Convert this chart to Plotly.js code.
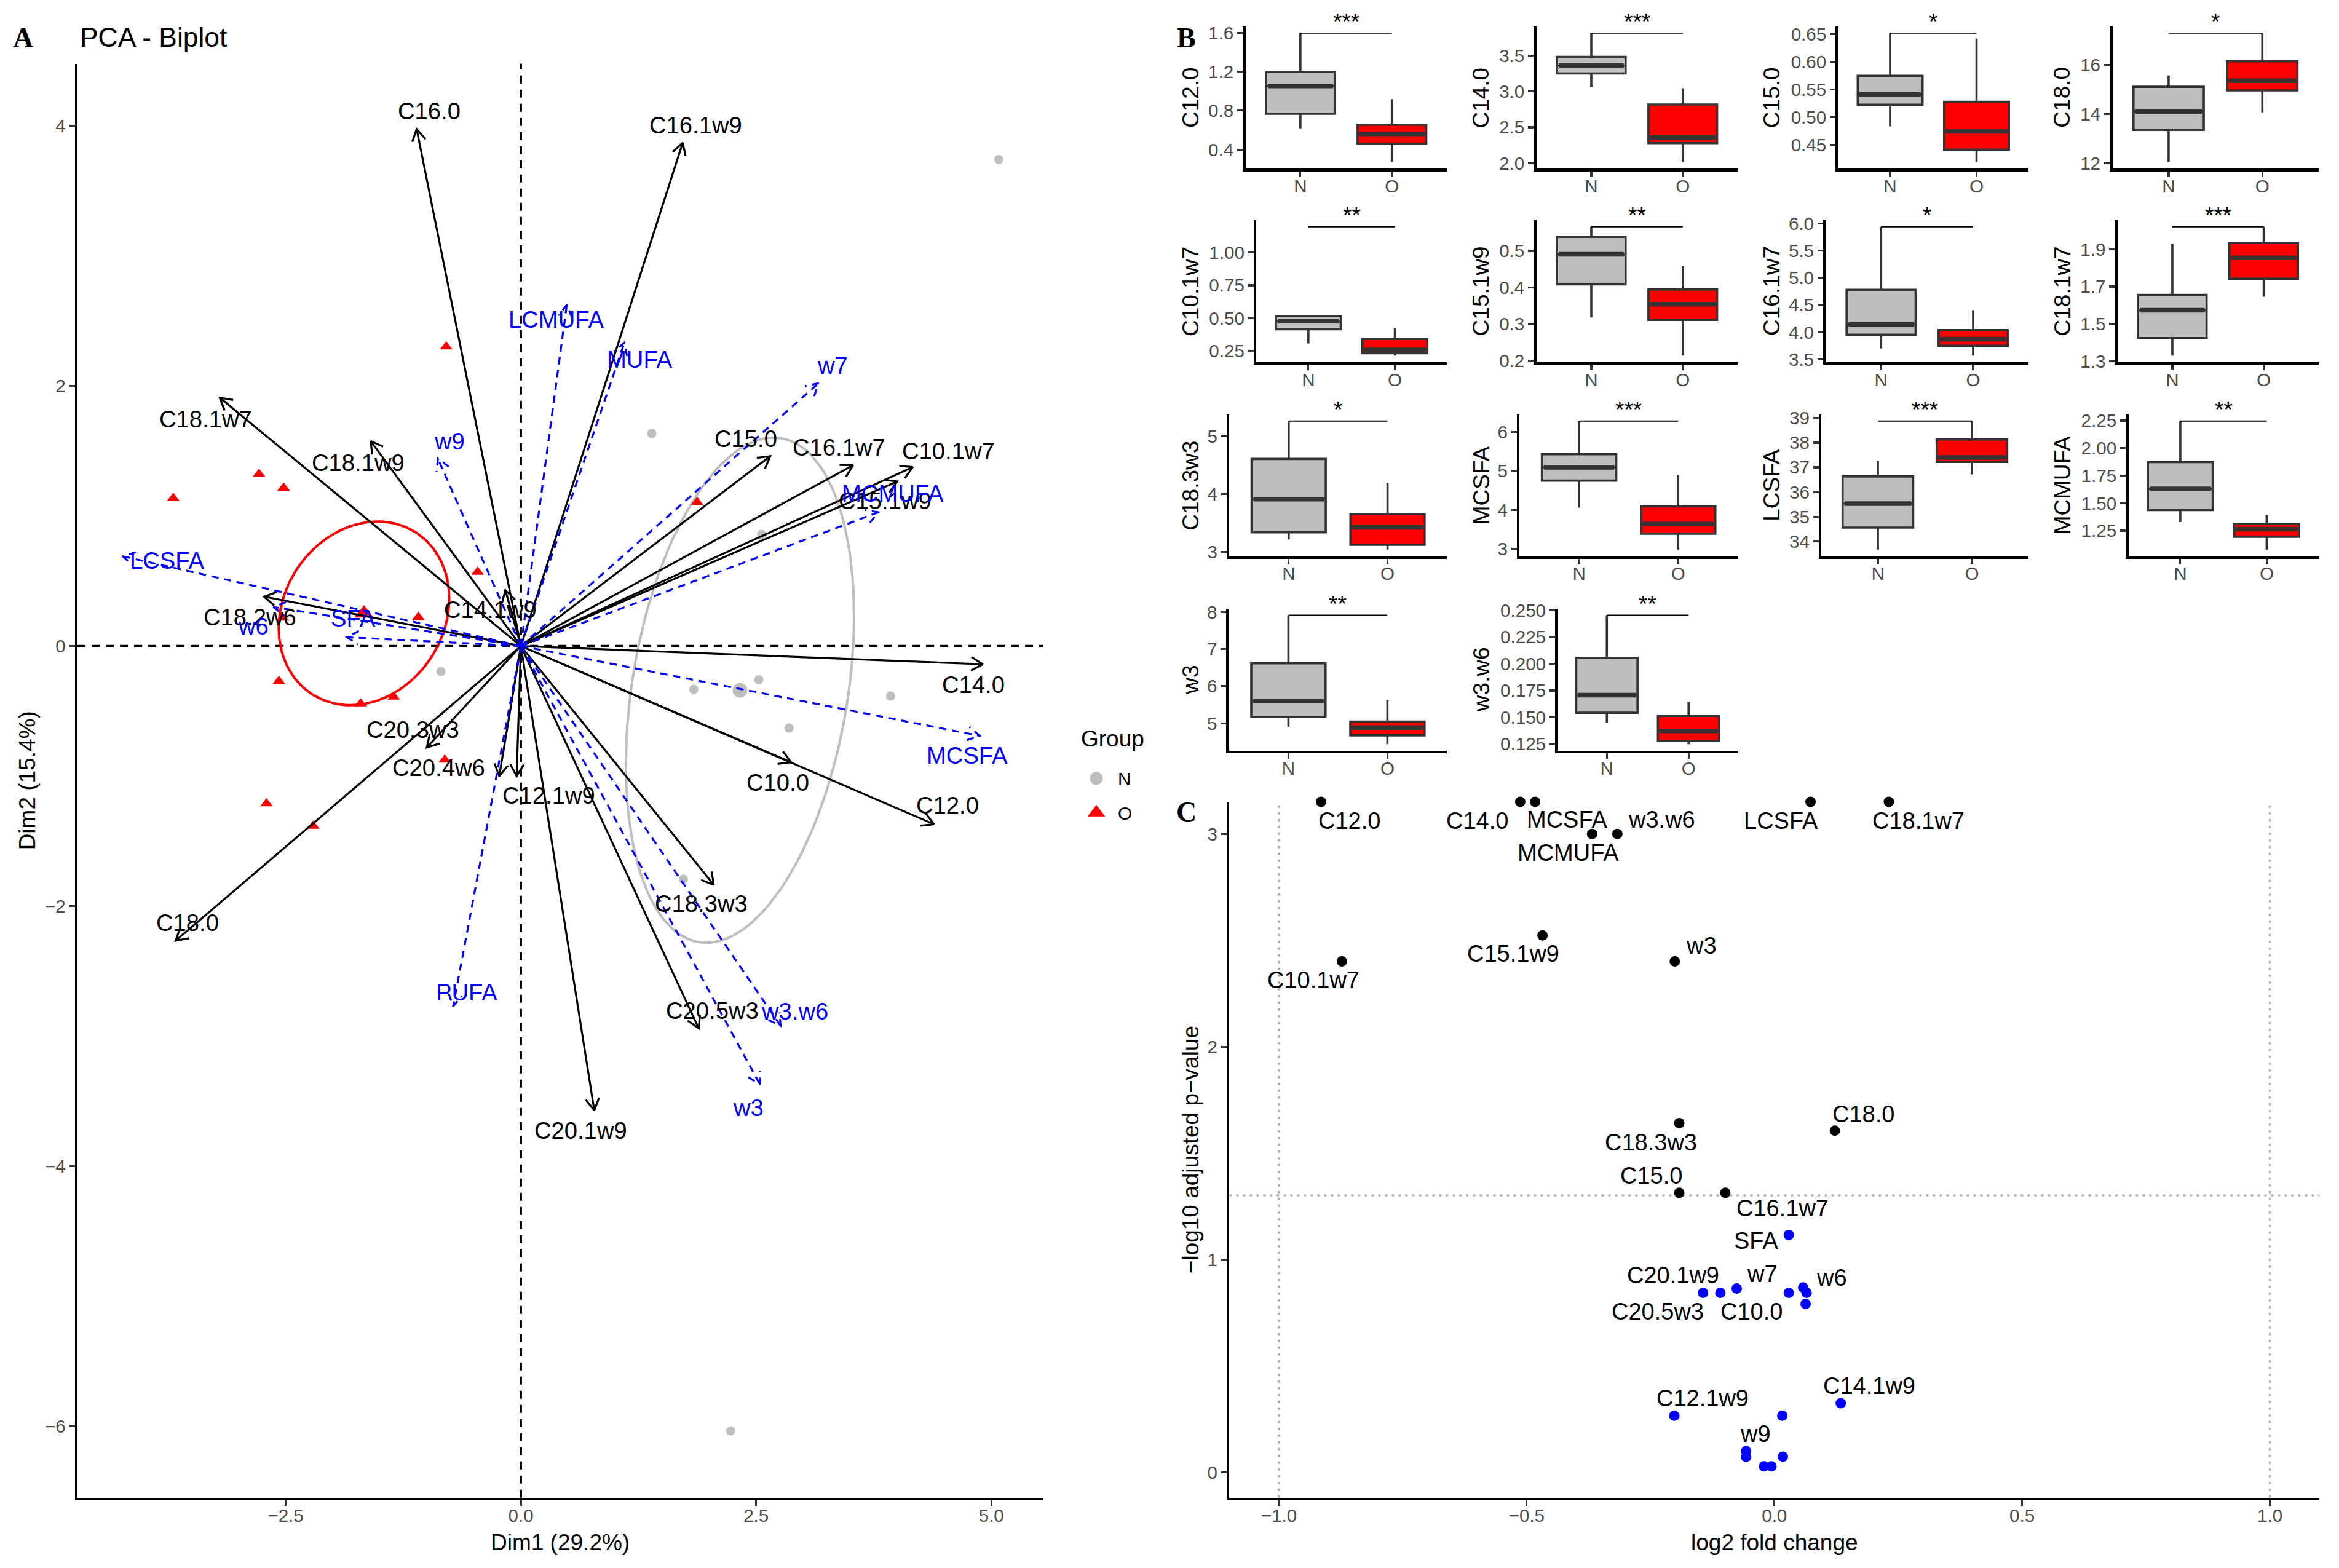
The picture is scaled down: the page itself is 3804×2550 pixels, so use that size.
<!DOCTYPE html>
<html><head><meta charset="utf-8">
<script src="https://cdn.plot.ly/plotly-3.0.1.min.js"></script>
<style>html,body{margin:0;padding:0;background:#fff}</style>
</head><body><div id="chart" style="width:3804px;height:2550px"></div>
<script>
// ================= DATA =================
// ---- Panel A : PCA biplot ----
const pcaVarNames = ['C16.0','C16.1w9','C18.1w7','C18.1w9','C15.0','C16.1w7','C10.1w7','C15.1w9','C14.1w9','C18.2w6','C14.0','C10.0','C12.0','C20.3w3','C20.4w6','C12.1w9','C18.0','C18.3w3','C20.5w3','C20.1w9'];
const pcaVarDim1  = [-1.108,1.72,-3.20,-1.596,2.65,3.53,4.165,4.0,-0.165,-2.73,4.91,2.872,4.39,-1.0,-0.23,-0.045,-3.67,2.05,1.89,0.78];
const pcaVarDim2  = [3.976,3.87,1.91,1.576,1.46,1.39,1.376,1.266,0.43,0.38,-0.14,-0.894,-1.37,-0.78,-1.0,-1.0,-2.266,-1.836,-2.94,-3.57];
const pcaGrpNames = ['LCMUFA','MUFA','w7','w9','MCMUFA','LCSFA','w6','SFA','MCSFA','PUFA','w3.w6','w3'];
const pcaGrpDim1  = [0.488,1.10,3.163,-0.882,3.80,-4.23,-2.63,-1.85,4.876,-0.72,2.76,2.54];
const pcaGrpDim2  = [2.624,2.333,2.02,1.44,1.029,0.69,0.30,0.068,-0.69,-2.77,-2.92,-3.37];
const indNDim1 = [5.08,1.392,2.558,-0.85,2.529,1.837,3.929,2.85,1.727,2.23];
const indNDim2 = [3.741,1.635,0.859,-0.196,-0.259,-0.333,-0.384,-0.631,-1.793,-6.035];
const indODim1 = [-0.794,-3.695,-2.784,-2.522,-0.46,1.873,-1.09,-2.572,-1.703,-1.352,-0.809,-2.704,-2.208,-2.53];
const indODim2 = [2.302,1.137,1.322,1.216,0.569,1.106,0.222,-0.27,-0.443,-0.39,-0.875,-1.211,-1.383,0.217];
const groupNames = ['N','O'];
const pcaXTickLabels = ['\u22122.5','0.0','2.5','5.0'];
const pcaYTickLabels = ['\u22126','\u22124','\u22122','0','2','4'];

// ---- Panel B : boxplots ----
const boxVars = ['C12.0','C14.0','C15.0','C18.0','C10.1w7','C15.1w9','C16.1w7','C18.1w7','C18.3w3','MCSFA','LCSFA','MCMUFA','w3','w3.w6'];
const boxSig  = ['***','***','*','*','**','**','*','***','*','***','***','**','**','**'];
const nLow  = [0.617,3.059,0.4831,12.042,0.3077,0.3177,3.70,1.3306,3.223,4.059,33.67,1.3278,4.90,0.145];
const nQ1   = [0.768,3.251,0.5222,13.353,0.4153,0.4083,3.956,1.4244,3.342,4.751,34.561,1.437,5.166,0.1542];
const nMed  = [1.053,3.361,0.5405,14.10,0.4776,0.4907,4.144,1.573,3.917,5.092,35.535,1.6296,5.599,0.1706];
const nQ3   = [1.1965,3.483,0.5743,15.108,0.5166,0.5387,4.78,1.6553,4.6105,5.426,36.632,1.8731,6.619,0.2056];
const nHigh = [1.596,3.816,0.6515,15.568,0.5166,0.5662,5.94,1.9296,5.266,6.277,37.267,2.2463,7.917,0.2454];
const oLow  = [0.272,2.014,0.4187,14.066,0.2157,0.2134,3.571,1.6455,3.043,2.984,36.715,1.0778,4.436,0.1248];
const oQ1   = [0.4615,2.278,0.4412,14.959,0.2328,0.311,3.752,1.742,3.128,3.391,37.222,1.1944,4.674,0.1278];
const oMed  = [0.561,2.356,0.4741,15.353,0.2593,0.3542,3.873,1.8534,3.428,3.639,37.399,1.2648,4.884,0.1371];
const oQ3   = [0.655,2.817,0.5274,16.145,0.342,0.3943,4.04,1.9329,3.656,4.091,38.125,1.313,5.044,0.1512];
const oHigh = [0.918,3.045,0.6415,17.295,0.423,0.4596,4.404,2.0196,4.197,4.894,38.876,1.3926,5.63,0.164];
const sigBarY = [1.596,3.816,0.6515,17.295,1.195,0.5662,5.94,2.0196,5.266,6.277,38.876,2.2463,7.917,0.2454];
const boxTickLabels = [
  ['0.4','0.8','1.2','1.6'], ['2.0','2.5','3.0','3.5'], ['0.45','0.50','0.55','0.60','0.65'], ['12','14','16'],
  ['0.25','0.50','0.75','1.00'], ['0.2','0.3','0.4','0.5'], ['3.5','4.0','4.5','5.0','5.5','6.0'], ['1.3','1.5','1.7','1.9'],
  ['3','4','5'], ['3','4','5','6'], ['34','35','36','37','38','39'], ['1.25','1.50','1.75','2.00','2.25'],
  ['5','6','7','8'], ['0.125','0.150','0.175','0.200','0.225','0.250']
];

// ---- Panel C : volcano ----
const sigNames   = ['C12.0','C14.0','MCSFA','MCMUFA','w3.w6','LCSFA','C18.1w7','C15.1w9','w3','C10.1w7','C18.3w3','C18.0','C15.0','C16.1w7'];
const sigLog2FC  = [-0.915,-0.513,-0.483,-0.368,-0.317,0.073,0.231,-0.468,-0.201,-0.873,-0.192,0.122,-0.192,-0.099];
const sigNegLogP = [3.151,3.151,3.151,3.0,3.0,3.151,3.151,2.523,2.401,2.401,1.641,1.605,1.313,1.313];
const nsNames    = ['SFA','C20.5w3','C20.1w9','w7','C10.0','w6','MUFA','C18.2w6','C14.1w9','C12.1w9','LCMUFA','w9','C16.0','C16.1w9','C18.1w9','PUFA'];
const nsLog2FC   = [0.029,-0.144,-0.109,-0.076,0.029,0.058,0.065,0.063,0.134,-0.202,0.016,-0.057,-0.057,0.017,-0.021,-0.006];
const nsNegLogP  = [1.115,0.843,0.843,0.863,0.843,0.868,0.843,0.791,0.324,0.266,0.266,0.099,0.072,0.073,0.027,0.027];
const volXTickLabels = ['\u22121.0','\u22120.5','0.0','0.5','1.0'];
const volYTickLabels = ['0','1','2','3'];
const pThreshold = 0.05;
const fcLimit = 1;

// ================= STYLE / GEOMETRY =================
const W = 3804, H = 2550;
const FONT = 'Liberation Sans, Arial, Helvetica, sans-serif';
const GRAY = '#BEBEBE', RED = '#FF0000', BLUE = '#0000FF';
const GEO_A = {x0:126.1, x1:1696.4, y0:103.6, y1:2435.7, xr:[-4.712,5.550], yr:[-6.549,4.478]};
const GEO_C = {x0:1999.4, x1:3772.1, y0:1303.9, y1:2435.7, xr:[-1.1,1.1], yr:[-0.12,3.151]};
const B_ROW_TOP = [43.3, 358.3, 674.3, 990];
const B_ROW_BOT = [274, 588.7, 904.3, 1220.7];
const B_LEFT = [[2025.6,2498.7,2989.7,3435.5],[2043.4,2498.7,2969.5,3443.8],[1999.4,2471.4,2962.3,3461.6],[1998.8,2533.5]];
const B_RIGHT = [2353, 2826, 3298.8, 3770.7];
const B_TITLE_X = [1936.4, 2408.9, 2881.5, 3354];

const pcaVarLabelOffset = {'C16.0':[20,-29],'C16.1w9':[21,-29],'C18.1w7':[-23,35],'C18.1w9':[-20,35],'C15.0':[-40,-28],
 'C16.1w7':[-23,-29],'C10.1w7':[58,-26],'C15.1w9':[-20,32],'C14.1w9':[-24,32],'C18.2w6':[-23,33],'C14.0':[-15,33],
 'C10.0':[-22,33],'C12.0':[22,-31],'C20.3w3':[-23,-29],'C20.4w6':[-98,-14],'C12.1w9':[52,31],'C18.0':[19,-29],
 'C18.3w3':[-20,31],'C20.5w3':[22,-29],'C20.1w9':[-22,33]};
const pcaGrpLabelOffset = {'LCMUFA':[-17,24],'MUFA':[25,27],'w7':[23,-29],'w9':[19,-29],'MCMUFA':[23,-31],'LCSFA':[72,7],
 'w6':[-33,31],'SFA':[10,-31],'MCSFA':[-20,32],'PUFA':[22,-23],'w3.w6':[23,-24],'w3':[-19,38]};
const volLabelOffset = {'C12.0':[46,31.5],'C14.0':[-70,31.5],'MCSFA':[52,29],'MCMUFA':[-39,31],'w3.w6':[72,-23],
 'LCSFA':[-48,31.5],'C18.1w7':[48,31.5],'C15.1w9':[-48,30],'w3':[43,-25],'C10.1w7':[-46,31],'C18.3w3':[-46,31.5],
 'C18.0':[46,-27],'C15.0':[-46,-28],'C16.1w7':[93,25],
 'SFA':[-53,10],'C20.5w3':[-74,31],'C20.1w9':[-77,-28],'w7':[41,-24],'C10.0':[-61,31],'w6':[47,-16],
 'C14.1w9':[46,-28],'C12.1w9':[46,-28],'w9':[15,-28]};

// ================= BUILD =================
const toNum = s => parseFloat(String(s).replace('\u2212','-'));
const px = v => v / W;
const py = v => 1 - v / H;
const traces = [], annotations = [], shapes = [];

function axisStyle(extra) {
  return Object.assign({
    showgrid:false, zeroline:false, showline:true, linecolor:'#000', linewidth:4.5,
    ticks:'outside', ticklen:9, tickwidth:3.2, tickcolor:'#333333',
    tickfont:{family:FONT, size:29.6, color:'#4D4D4D'}, fixedrange:true, layer:'above traces'
  }, extra);
}
function text(opts) {
  return Object.assign({showarrow:false, font:{family:FONT, size:37, color:'#000'}, xanchor:'center', yanchor:'middle'}, opts);
}
const mean = a => a.reduce((s,v)=>s+v,0)/a.length;

const layout = {
  width:W, height:H, margin:{l:0,r:0,t:0,b:0}, paper_bgcolor:'#fff', plot_bgcolor:'rgba(0,0,0,0)',
  font:{family:FONT}, hovermode:false, showlegend:true,
  legend:{x:px(1748), y:py(1240), xanchor:'left', yanchor:'top', bgcolor:'rgba(0,0,0,0)',
          font:{family:FONT, size:29.6, color:'#000'}, itemwidth:60, tracegroupgap:14}
};

// ---- Panel A ----
layout.xaxis = axisStyle({domain:[px(GEO_A.x0), px(GEO_A.x1)], range:GEO_A.xr, anchor:'y',
  tickvals:pcaXTickLabels.map(toNum), ticktext:pcaXTickLabels, ticklabelstandoff:-10});
layout.yaxis = axisStyle({domain:[py(GEO_A.y1), py(GEO_A.y0)], range:GEO_A.yr, anchor:'x',
  tickvals:pcaYTickLabels.map(toNum), ticktext:pcaYTickLabels});
shapes.push({type:'line', xref:'x', yref:'y domain', x0:0, x1:0, y0:0, y1:1, layer:'below', line:{color:'#000', width:3.6, dash:'13px,10px'}});
shapes.push({type:'line', xref:'x domain', yref:'y', x0:0, x1:1, y0:0, y1:0, layer:'below', line:{color:'#000', width:3.6, dash:'13px,10px'}});

const CHI2_95_DF2 = 5.991;
function confEllipse(xs, ys) {
  const n = xs.length, mx = mean(xs), my = mean(ys);
  let sxx=0, syy=0, sxy=0;
  for (let i=0;i<n;i++){ const dx=xs[i]-mx, dy=ys[i]-my; sxx+=dx*dx; syy+=dy*dy; sxy+=dx*dy; }
  sxx/=(n-1)*n; syy/=(n-1)*n; sxy/=(n-1)*n;
  const l11=Math.sqrt(sxx), l21=sxy/l11, l22=Math.sqrt(syy-l21*l21), r=Math.sqrt(CHI2_95_DF2);
  const ex=[], ey=[];
  for (let k=0;k<=120;k++){ const t=2*Math.PI*k/120, c=Math.cos(t), s=Math.sin(t);
    ex.push(mx + r*l11*c); ey.push(my + r*(l21*c + l22*s)); }
  return {ex, ey, mx, my};
}
const eN = confEllipse(indNDim1, indNDim2), eO = confEllipse(indODim1, indODim2);
traces.push({type:'scatter', mode:'lines', x:eN.ex, y:eN.ey, line:{color:GRAY, width:4}, showlegend:false, hoverinfo:'skip', xaxis:'x', yaxis:'y'});
traces.push({type:'scatter', mode:'lines', x:eO.ex, y:eO.ey, line:{color:RED, width:4}, showlegend:false, hoverinfo:'skip', xaxis:'x', yaxis:'y'});
traces.push({type:'scatter', mode:'markers', name:groupNames[0], x:indNDim1, y:indNDim2, marker:{symbol:'circle', size:15, color:GRAY}, showlegend:false, xaxis:'x', yaxis:'y', hoverinfo:'skip'});
traces.push({type:'scatter', mode:'markers', name:groupNames[1], x:indODim1, y:indODim2, marker:{symbol:'triangle-up', size:18, color:RED}, showlegend:false, xaxis:'x', yaxis:'y', hoverinfo:'skip'});
traces.push({type:'scatter', mode:'markers', x:[eN.mx], y:[eN.my], marker:{symbol:'circle', size:24, color:GRAY}, showlegend:false, xaxis:'x', yaxis:'y', hoverinfo:'skip'});
traces.push({type:'scatter', mode:'markers', x:[eO.mx], y:[eO.my], marker:{symbol:'triangle-up', size:27, color:RED}, showlegend:false, xaxis:'x', yaxis:'y', hoverinfo:'skip'});
// legend keys (no data, legend only; enlarged symbols like the reference key)
traces.push({type:'scatter', mode:'markers', name:groupNames[0], legendgroup:'N', x:[null], y:[null], marker:{symbol:'circle', size:16, color:GRAY, line:{color:GRAY, width:5}}, xaxis:'x', yaxis:'y', hoverinfo:'skip'});
traces.push({type:'scatter', mode:'markers', name:groupNames[1], legendgroup:'O', x:[null], y:[null], marker:{symbol:'triangle-up', size:16, color:RED, line:{color:RED, width:5}}, xaxis:'x', yaxis:'y', hoverinfo:'skip'});

// arrows: shaft + open arrow head computed in pixel space
const kx = (GEO_A.x1-GEO_A.x0)/(GEO_A.xr[1]-GEO_A.xr[0]);
const ky = (GEO_A.y1-GEO_A.y0)/(GEO_A.yr[1]-GEO_A.yr[0]);
function arrowPath(xs, ys) {
  const X=[], Y=[], L=22, ang=Math.PI/6;
  for (let i=0;i<xs.length;i++){
    const tx=xs[i], ty=ys[i], dxp=tx*kx, dyp=ty*ky, len=Math.hypot(dxp,dyp), ux=dxp/len, uy=dyp/len;
    const b=[];
    for (const s of [1,-1]){ const c=Math.cos(s*ang), sn=Math.sin(s*ang);
      const rx=-(ux*c - uy*sn)*L, ry=-(ux*sn + uy*c)*L; b.push([tx+rx/kx, ty+ry/ky]); }
    X.push(0,tx,null,b[0][0],tx,b[1][0],null); Y.push(0,ty,null,b[0][1],ty,b[1][1],null);
  }
  return {X,Y};
}
const ab = arrowPath(pcaVarDim1, pcaVarDim2), ag = arrowPath(pcaGrpDim1, pcaGrpDim2);
traces.push({type:'scatter', mode:'lines', x:ab.X, y:ab.Y, line:{color:'#000', width:3.2}, connectgaps:false, showlegend:false, hoverinfo:'skip', xaxis:'x', yaxis:'y'});
traces.push({type:'scatter', mode:'lines', x:ag.X, y:ag.Y, line:{color:BLUE, width:3.2, dash:'12px,9px'}, connectgaps:false, showlegend:false, hoverinfo:'skip', xaxis:'x', yaxis:'y'});
pcaVarNames.forEach((n,i)=>{ const o=pcaVarLabelOffset[n];
  annotations.push(text({xref:'x', yref:'y', x:pcaVarDim1[i], y:pcaVarDim2[i], text:n, xshift:o[0], yshift:-o[1], font:{family:FONT,size:38.2,color:'#000'}})); });
pcaGrpNames.forEach((n,i)=>{ const o=pcaGrpLabelOffset[n];
  annotations.push(text({xref:'x', yref:'y', x:pcaGrpDim1[i], y:pcaGrpDim2[i], text:n, xshift:o[0], yshift:-o[1], font:{family:FONT,size:38.2,color:BLUE}})); });
annotations.push(text({xref:'paper', yref:'paper', x:px(128), y:py(60.5), xanchor:'left', text:'PCA - Biplot', font:{family:FONT,size:44.4,color:'#000'}}));
annotations.push(text({xref:'paper', yref:'paper', x:px((GEO_A.x0+GEO_A.x1)/2), y:py(2508.7), text:'Dim1 (29.2%)'}));
annotations.push(text({xref:'paper', yref:'paper', x:px(44.7), y:py((GEO_A.y0+GEO_A.y1)/2), text:'Dim2 (15.4%)', textangle:-90}));
annotations.push(text({xref:'paper', yref:'paper', x:px(1756), y:py(1201), xanchor:'left', text:'Group'}));

// ---- Panel B ----
const BOX_W = 0.75;
boxVars.forEach((v,i)=>{
  const r=Math.floor(i/4), c=i%4, k=i+2, xa='x'+k, ya='y'+k;
  const lo=Math.min(nLow[i],oLow[i]), hi=Math.max(sigBarY[i], nHigh[i], oHigh[i]), sp=hi-lo;
  layout['xaxis'+k] = axisStyle({domain:[px(B_LEFT[r][c]), px(B_RIGHT[c])], range:[-0.6,1.6], anchor:ya,
     tickvals:[0,1], ticktext:groupNames, ticklabelstandoff:-10});
  layout['yaxis'+k] = axisStyle({domain:[py(B_ROW_BOT[r]), py(B_ROW_TOP[r])], range:[lo-0.05*sp, hi+0.05*sp], anchor:xa,
     tickvals:boxTickLabels[i].map(toNum), ticktext:boxTickLabels[i]});
  const stats=[[nLow,nQ1,nMed,nQ3,nHigh,GRAY],[oLow,oQ1,oMed,oQ3,oHigh,RED]];
  stats.forEach((s,g)=>{
    traces.push({type:'box', orientation:'v', x:[g], lowerfence:[s[0][i]], q1:[s[1][i]], median:[s[2][i]], q3:[s[3][i]], upperfence:[s[4][i]],
      width:BOX_W, whiskerwidth:0, fillcolor:s[5], line:{color:'#333333', width:3.6}, boxpoints:false,
      showlegend:false, hoverinfo:'skip', xaxis:xa, yaxis:ya});
  });
  traces.push({type:'scatter', mode:'lines', x:[0-BOX_W/2+0.02, 0+BOX_W/2-0.02, null, 1-BOX_W/2+0.02, 1+BOX_W/2-0.02],
    y:[nMed[i], nMed[i], null, oMed[i], oMed[i]], line:{color:'#333333', width:7.5}, showlegend:false, hoverinfo:'skip', xaxis:xa, yaxis:ya, cliponaxis:false});
  traces.push({type:'scatter', mode:'lines', x:[0,1], y:[sigBarY[i], sigBarY[i]], line:{color:'#000', width:1.8}, showlegend:false, hoverinfo:'skip', xaxis:xa, yaxis:ya, cliponaxis:false});
  annotations.push(text({xref:xa, yref:ya, x:0.5, y:sigBarY[i], yshift:18, text:boxSig[i], font:{family:FONT,size:37,color:'#000'}}));
  annotations.push(text({xref:'paper', yref:'paper', x:px(B_TITLE_X[c]), y:py((B_ROW_TOP[r]+B_ROW_BOT[r])/2), text:v, textangle:-90, font:{family:FONT,size:37,color:'#000'}}));
});

// ---- Panel C ----
const cx='x16', cy='y16';
layout.xaxis16 = axisStyle({domain:[px(GEO_C.x0), px(GEO_C.x1)], range:GEO_C.xr, anchor:cy,
  tickvals:volXTickLabels.map(toNum), ticktext:volXTickLabels, ticklabelstandoff:-10});
layout.yaxis16 = axisStyle({domain:[py(GEO_C.y1), py(GEO_C.y0)], range:GEO_C.yr, anchor:cx,
  tickvals:volYTickLabels.map(toNum), ticktext:volYTickLabels});
const pLine = -Math.log10(pThreshold);
const refLine = {color:'#B0B0B0', width:3.5, dash:'4px,7px'};
[-fcLimit, fcLimit].forEach(v=>shapes.push({type:'line', xref:cx, yref:'y16 domain', x0:v, x1:v, y0:0, y1:1, layer:'below', line:refLine}));
shapes.push({type:'line', xref:'x16 domain', yref:cy, x0:0, x1:1, y0:pLine, y1:pLine, layer:'below', line:refLine});
traces.push({type:'scatter', mode:'markers', x:sigLog2FC, y:sigNegLogP, text:sigNames, marker:{size:17, color:'#000'}, cliponaxis:false, showlegend:false, hoverinfo:'skip', xaxis:cx, yaxis:cy});
traces.push({type:'scatter', mode:'markers', x:nsLog2FC, y:nsNegLogP, text:nsNames, marker:{size:17, color:BLUE}, cliponaxis:false, showlegend:false, hoverinfo:'skip', xaxis:cx, yaxis:cy});
[[sigNames,sigLog2FC,sigNegLogP],[nsNames,nsLog2FC,nsNegLogP]].forEach(([nm,xs,ys])=>{
  nm.forEach((n,i)=>{ const o=volLabelOffset[n]; if(!o) return;
    annotations.push(text({xref:cx, yref:cy, x:xs[i], y:ys[i], text:n, xshift:o[0], yshift:-o[1], font:{family:FONT,size:38,color:'#000'}})); });
});
annotations.push(text({xref:'paper', yref:'paper', x:px((GEO_C.x0+GEO_C.x1)/2), y:py(2508.7), text:'log2 fold change'}));
annotations.push(text({xref:'paper', yref:'paper', x:px(1936.4), y:py((GEO_C.y0+GEO_C.y1)/2), text:'\u2212log10 adjusted p\u2212value', textangle:-90}));

// ---- panel letters ----
[['A',37.2,61],['B',1930,61],['C',1930,1320]].forEach(([t,x,y])=>{
  annotations.push(text({xref:'paper', yref:'paper', x:px(x), y:py(y), text:'<b>'+t+'</b>', font:{family:'Liberation Serif, Times New Roman, serif', size:46, color:'#000'}}));
});

layout.annotations = annotations;
layout.shapes = shapes;
Plotly.newPlot('chart', traces, layout, {staticPlot:true, displayModeBar:false});
</script></body></html>
